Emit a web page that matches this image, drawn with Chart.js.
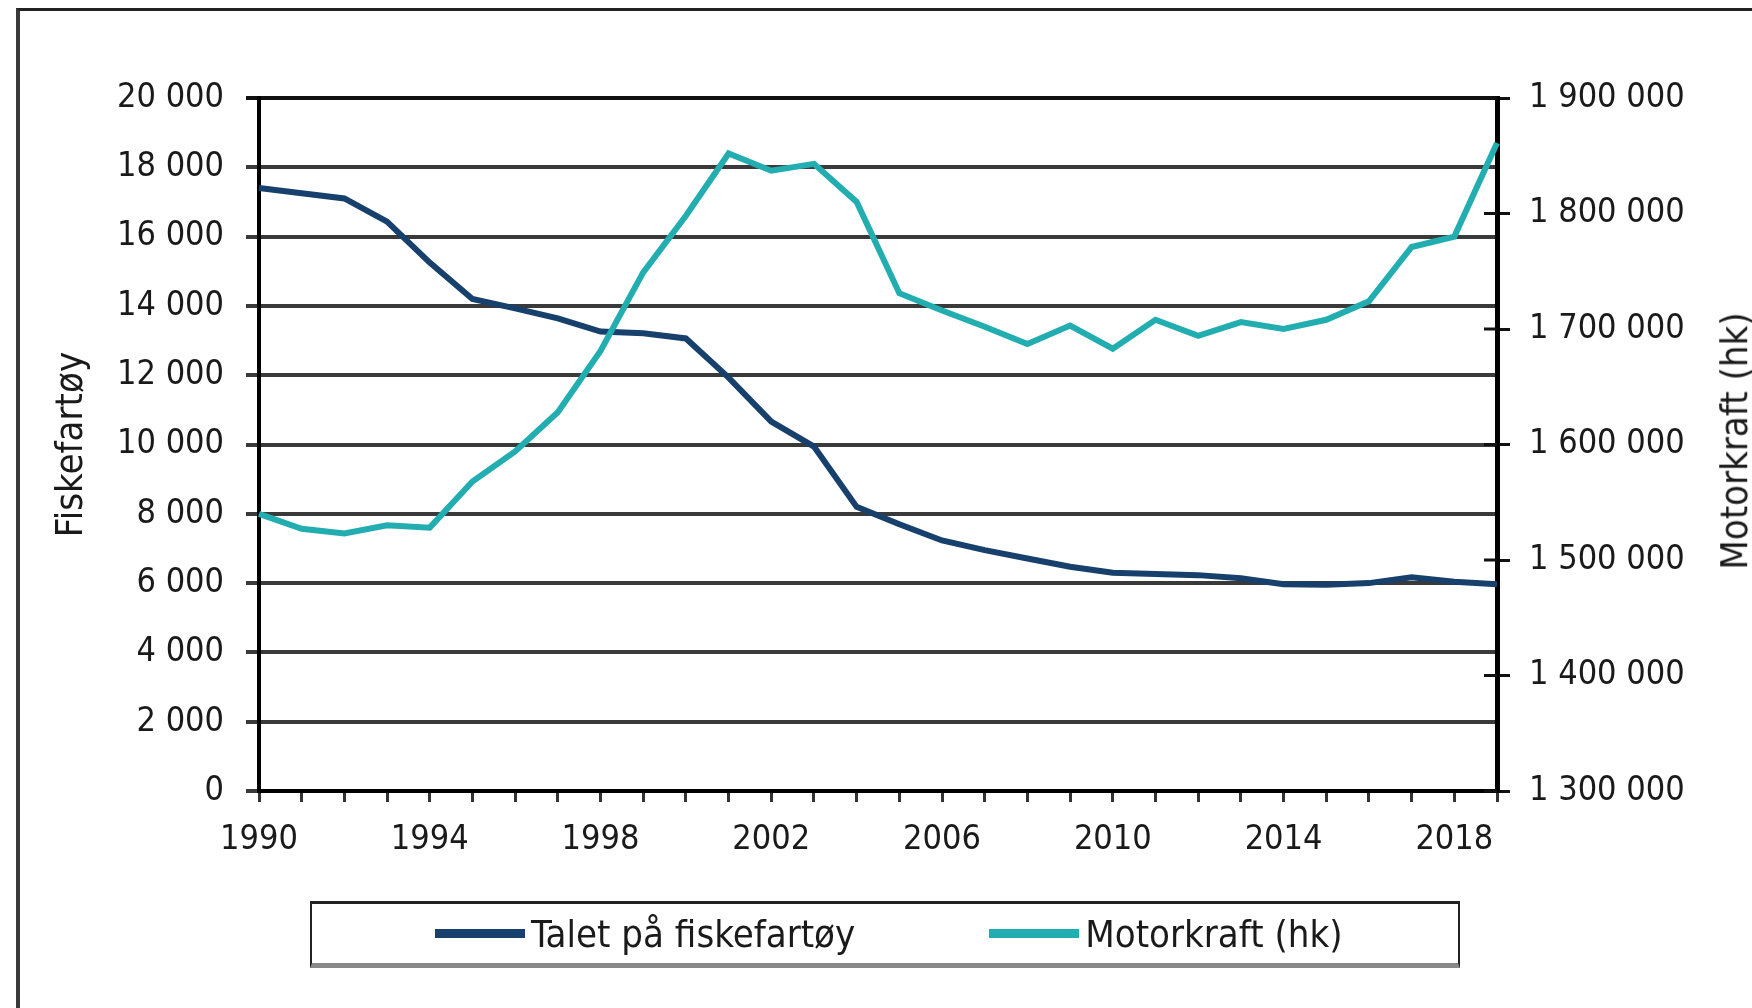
<!DOCTYPE html>
<html>
<head>
<meta charset="utf-8">
<script src="https://cdn.jsdelivr.net/npm/chart.js@4"></script>
<style>
  html, body { margin: 0; padding: 0; overflow: hidden; background: #fff; }
  #wrap { position: relative; width: 1752px; height: 1008px; overflow: hidden; }
  #frame { position: absolute; left: 16px; top: 8px; width: 2000px; height: 2000px;
           border-top: 3px solid #222; border-left: 4px solid #3a3a3a; }
  #myChart { position: absolute; left: 0; top: 0; }
  #rtitle { position: absolute; left: 1735px; top: 441px; white-space: nowrap;
            transform: translate(-50%, -50%) rotate(-90deg);
            font: 38px 'DejaVu Sans Condensed', 'Liberation Sans Narrow', 'DejaVu Sans', sans-serif;
            color: #1a1a1a; line-height: 1.2; }
  #legend { position: absolute; left: 310px; top: 901px; width: 1150px; height: 67px;
            border-top: 3px solid #222; border-left: 2px solid #222; border-right: 2px solid #222;
            border-bottom: 5px solid #888; display: flex; align-items: center; padding-left: 123px;
            box-sizing: border-box; white-space: nowrap; }
  #legend .item { display: flex; align-items: center; margin-right: 134px; flex-shrink: 0; }
  #legend .swatch { display: inline-block; width: 90px; height: 9px; flex-shrink: 0; }
  #legend .txt { margin-left: 6px; color: #1a1a1a; white-space: nowrap;
                 font: 38px 'DejaVu Sans Condensed', 'Liberation Sans Narrow', 'DejaVu Sans', sans-serif; }
</style>
</head>
<body>
<div id="wrap">
  <div id="frame"></div>
  <canvas id="myChart" width="1752" height="1008"></canvas>
  <div id="rtitle">Motorkraft (hk)</div>
  <div id="legend"></div>
</div>
<script>
// data
var years = ['1990', '1991', '1992', '1993', '1994', '1995', '1996', '1997', '1998', '1999',
             '2000', '2001', '2002', '2003', '2004', '2005', '2006', '2007', '2008', '2009',
             '2010', '2011', '2012', '2013', '2014', '2015', '2016', '2017', '2018', '2019'];
var yearLabels = ['1990', '1994', '1998', '2002', '2006', '2010', '2014', '2018'];

var vessels = [17400, 17250, 17100, 16430, 15250, 14200, 13930, 13640, 13260, 13210,
               13060, 11930, 10660, 9940, 8200, 7700, 7230, 6950, 6710, 6470,
               6300, 6260, 6230, 6140, 5970, 5950, 6000, 6170, 6040, 5970];
var horsepower = [1540000, 1527000, 1523000, 1530000, 1528000, 1568000, 1594000, 1628000, 1681000, 1749000,
                  1798000, 1852000, 1837000, 1843000, 1810000, 1731000, 1716000, 1702000, 1687000, 1703000,
                  1683000, 1708000, 1694000, 1706000, 1700000, 1708000, 1724000, 1771000, 1780000, 1861000];

var leftTicks = [0, 2000, 4000, 6000, 8000, 10000, 12000, 14000, 16000, 18000, 20000];
var rightTicks = [1300000, 1400000, 1500000, 1600000, 1700000, 1800000, 1900000];

var FONT = "'DejaVu Sans Condensed', 'Liberation Sans Narrow', 'DejaVu Sans', sans-serif";

function spaced(v) {
    return String(v).replace(/\B(?=(\d{3})+(?!\d))/g, ' ');
}

// right axis ticks cross the axis line
var crossTicks = {
    id: 'crossTicks',
    afterDraw: function (chart) {
        var s = chart.scales.y1;
        var ctx = chart.ctx;
        ctx.save();
        ctx.strokeStyle = '#111';
        ctx.lineWidth = 3;
        s.ticks.forEach(function (t) {
            var y = s.getPixelForValue(t.value);
            ctx.beginPath();
            ctx.moveTo(s.left - 13, y);
            ctx.lineTo(s.left, y);
            ctx.stroke();
        });
        ctx.restore();
    }
};

function renderChart() {
    var ctx = document.getElementById('myChart').getContext('2d');
    var chart = new Chart(ctx, {
        type: 'line',
        data: {
            labels: years,
            datasets: [{
                label: 'Talet på fiskefartøy',
                data: vessels,
                borderColor: '#17406d',
                borderWidth: 6,
                pointRadius: 0,
                tension: 0,
                yAxisID: 'y',
                order: 1
            }, {
                label: 'Motorkraft (hk)',
                data: horsepower,
                borderColor: '#22aeb1',
                borderWidth: 6,
                pointRadius: 0,
                tension: 0,
                yAxisID: 'y1',
                order: 0
            }]
        },
        options: {
            responsive: false,
            animation: false,
            devicePixelRatio: 1,
            layout: { padding: { top: 98, left: 0, right: 0, bottom: 117 } },
            plugins: { legend: { display: false }, tooltip: { enabled: false } },
            scales: {
                x: {
                    afterFit: function (s) { s.height = 100; },
                    grid: { drawOnChartArea: false, drawTicks: true, tickLength: 11, color: '#333', lineWidth: 3 },
                    border: { color: '#000', width: 4 },
                    ticks: {
                        autoSkip: false, maxRotation: 0, padding: 18, color: '#1a1a1a',
                        font: { family: FONT, size: 34 },
                        callback: function (v, i) {
                            var lab = years[i];
                            return yearLabels.indexOf(lab) >= 0 ? lab : '';
                        }
                    }
                },
                y: {
                    position: 'left',
                    min: 0,
                    max: 20000,
                    afterFit: function (s) { s.width = 259; },
                    afterBuildTicks: function (s) { s.ticks = leftTicks.map(function (v) { return { value: v }; }); },
                    grid: {
                        tickLength: 13,
                        lineWidth: 4,
                        color: function (c) { return c.tick && c.tick.value === 20000 ? '#111' : '#3a3a3a'; }
                    },
                    border: { color: '#000', width: 4 },
                    ticks: {
                        padding: 22, color: '#1a1a1a',
                        font: { family: FONT, size: 34 },
                        callback: function (v) { return spaced(v); }
                    },
                    title: {
                        display: true, text: 'Fiskefartøy', color: '#1a1a1a',
                        font: { family: FONT, size: 38 },
                        padding: { top: 49, bottom: 0 }
                    }
                },
                y1: {
                    position: 'right',
                    min: 1300000,
                    max: 1900000,
                    afterFit: function (s) { s.width = 255; },
                    afterBuildTicks: function (s) { s.ticks = rightTicks.map(function (v) { return { value: v }; }); },
                    grid: { drawOnChartArea: false, tickLength: 13, lineWidth: 3, color: '#111' },
                    border: { color: '#000', width: 5 },
                    ticks: {
                        padding: 19, color: '#1a1a1a',
                        font: { family: FONT, size: 34 },
                        callback: function (v) { return spaced(v); }
                    }
                }
            }
        },
        plugins: [crossTicks]
    });
    return chart;
}

function buildLegend(chart) {
    var box = document.getElementById('legend');
    chart.data.datasets.forEach(function (ds) {
        var item = document.createElement('div');
        item.className = 'item';
        var sw = document.createElement('span');
        sw.className = 'swatch';
        sw.style.background = ds.borderColor;
        var txt = document.createElement('span');
        txt.className = 'txt';
        txt.textContent = ds.label;
        item.appendChild(sw);
        item.appendChild(txt);
        box.appendChild(item);
    });
}

var chart = renderChart();
buildLegend(chart);
</script>
</body>
</html>
